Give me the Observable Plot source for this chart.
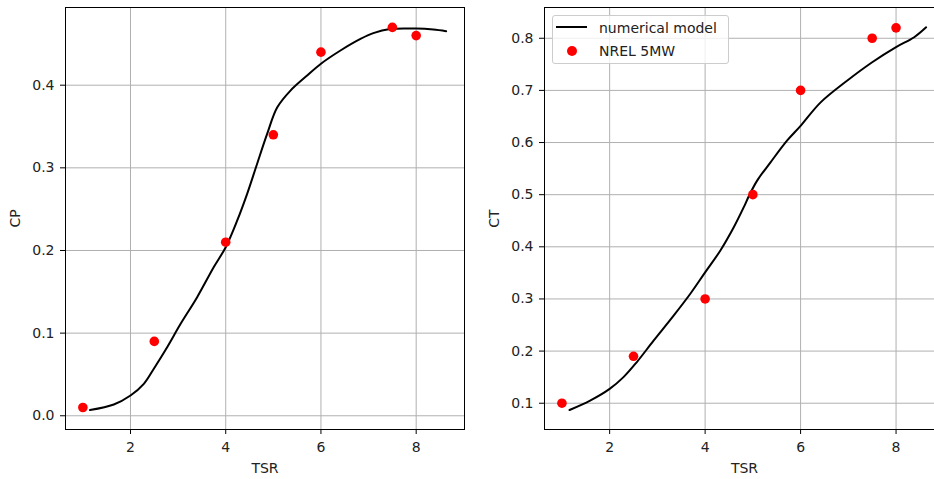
<!DOCTYPE html>
<html>
<head>
<meta charset="utf-8">
<script src="https://cdn.jsdelivr.net/npm/d3@7"></script>
<script src="https://cdn.jsdelivr.net/npm/@observablehq/plot@0.6"></script>
<style>
  html, body { margin: 0; padding: 0; background: #fff; overflow: hidden; }
  #wrap { position: relative; width: 934px; height: 479px; overflow: hidden; font-family: "DejaVu Sans", sans-serif; }
  .panel { position: absolute; top: 0; width: 480px; height: 479px; }
  .panel svg { max-width: none !important; }
  #legend { position: absolute; left: 552px; top: 15px; width: 175px; height: 47px;
            border: 1px solid #cccccc; border-radius: 3px; background: rgba(255,255,255,0.8); }
  .lg-line { position: absolute; left: 556px; top: 26px; width: 31px; height: 2px; background: #000; }
  .lg-dot { position: absolute; left: 567px; top: 46px; width: 10px; height: 10px; border-radius: 50%; background: #ff0000; }
  .lg-text { position: absolute; left: 599px; font-size: 14px; line-height: 16px; color: #222; white-space: nowrap; }
</style>
</head>
<body>
<div id="wrap">
  <div id="left" class="panel" style="left:0px"></div>
  <div id="right" class="panel" style="left:480px"></div>
  <div id="legend"></div>
  <div class="lg-line"></div>
  <div class="lg-dot"></div>
  <div class="lg-text" style="top:20px">numerical model</div>
  <div class="lg-text" style="top:43px">NREL 5MW</div>
</div>
<script>
// ---- data ----
const tsrModelCp = [1.15, 1.65, 2.0, 2.28, 2.49, 2.77, 3.05, 3.40, 3.75, 4.0, 4.24, 4.45, 4.66, 4.87, 5.08, 5.36, 5.71, 6.0, 6.41, 6.83, 7.1, 7.45, 8.0, 8.36, 8.63];
const cpModel    = [0.007, 0.0137, 0.0246, 0.0387, 0.057, 0.083, 0.111, 0.1435, 0.18, 0.204, 0.236, 0.2685, 0.305, 0.341, 0.373, 0.3935, 0.4117, 0.426, 0.442, 0.456, 0.463, 0.468, 0.4685, 0.4673, 0.4653];

const tsrModelCt = [1.16, 1.59, 2.0, 2.29, 2.57, 2.92, 3.34, 3.69, 4.0, 4.32, 4.6, 4.81, 4.92, 5.09, 5.37, 5.72, 6.0, 6.42, 6.98, 7.5, 8.0, 8.38, 8.63];
const ctModel    = [0.087, 0.105, 0.1275, 0.15, 0.179, 0.22, 0.268, 0.31, 0.351, 0.393, 0.4375, 0.476, 0.498, 0.527, 0.562, 0.604, 0.632, 0.677, 0.719, 0.754, 0.783, 0.802, 0.821];

const tsrNrel = [1, 2.5, 4, 5, 6, 7.5, 8];
const cpNrel  = [0.01, 0.09, 0.21, 0.34, 0.44, 0.47, 0.46];
const ctNrel  = [0.10, 0.19, 0.30, 0.50, 0.70, 0.80, 0.82];

const xTicks  = [2, 4, 6, 8];
const cpTicks = [0.0, 0.1, 0.2, 0.3, 0.4];
const ctTicks = [0.1, 0.2, 0.3, 0.4, 0.5, 0.6, 0.7, 0.8];

const xLabel = "TSR";
const cpLabel = "CP";
const ctLabel = "CT";

// ---- build ----
function panel({tsrLine, yLine, yPts, yDomain, yTicks, yLabel, marginLeft}) {
  const lineData = tsrLine.map((x, i) => ({x, y: yLine[i]}));
  const ptData = tsrNrel.map((x, i) => ({x, y: yPts[i]}));
  return Plot.plot({
    width: 480,
    height: 479,
    marginLeft,
    marginRight: 16,
    marginTop: 7,
    marginBottom: 50,
    style: {fontFamily: "DejaVu Sans", fontSize: "14px", color: "#222", background: "transparent", overflow: "visible", maxWidth: "none"},
    x: {domain: [0.635, 9.015]},
    y: {domain: yDomain},
    marks: [
      Plot.gridX(xTicks, {stroke: "#b0b0b0", strokeOpacity: 1, strokeWidth: 1}),
      Plot.gridY(yTicks, {stroke: "#b0b0b0", strokeOpacity: 1, strokeWidth: 1}),
      Plot.line(lineData, {x: "x", y: "y", stroke: "#000", strokeWidth: 2, curve: "catmull-rom"}),
      Plot.dot(ptData, {x: "x", y: "y", r: 4.8, fill: "#ff0000", stroke: "none"}),
      Plot.frame({stroke: "#000", strokeWidth: 1}),
      Plot.axisX({ticks: xTicks, tickSize: 5, tickPadding: 8, tickFormat: d3.format("d"), stroke: "#000",
                  label: xLabel, labelAnchor: "center", labelArrow: "none", labelOffset: 43}),
      Plot.axisY({ticks: yTicks, tickSize: 5, tickPadding: 6, tickFormat: d3.format(".1f"), stroke: "#000",
                  label: yLabel, labelAnchor: "center", labelArrow: "none", labelOffset: 55})
    ]
  });
}

document.getElementById("left").appendChild(panel({
  tsrLine: tsrModelCp, yLine: cpModel, yPts: cpNrel,
  yDomain: [-0.0166, 0.494], yTicks: cpTicks, yLabel: cpLabel, marginLeft: 65
}));
document.getElementById("right").appendChild(panel({
  tsrLine: tsrModelCt, yLine: ctModel, yPts: ctNrel,
  yDomain: [0.0496, 0.859], yTicks: ctTicks, yLabel: ctLabel, marginLeft: 64
}));
</script>
</body>
</html>
